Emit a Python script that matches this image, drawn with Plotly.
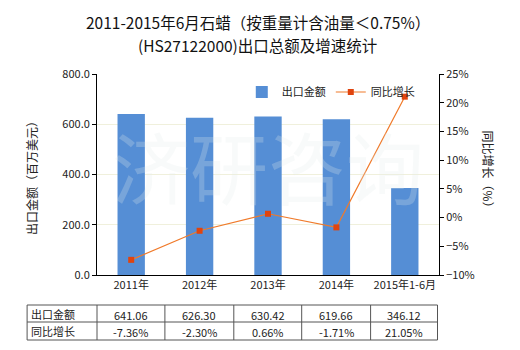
import plotly.graph_objects as go

categories = ["2011年", "2012年", "2013年", "2014年", "2015年1-6月"]
export_values = [641.06, 626.30, 630.42, 619.66, 346.12]
growth_pct = [-7.36, -2.30, 0.66, -1.71, 21.05]
row_labels = ["出口金额", "同比增长"]
title_lines = ["2011-2015年6月石蜡（按重量计含油量＜0.75%）", "(HS27122000)出口总额及增速统计"]

W, H = 520, 350
PL, PR, PT, PB = 97, 439.5, 74, 275  # plot area in pixels
FONT = "Noto Sans CJK SC, Microsoft YaHei, sans-serif"

def px_x(x):
    return (x - PL) / (PR - PL)

def px_y(y):
    return (PB - y) / (PB - PT)

fig = go.Figure()
fig.add_trace(go.Bar(
    x=categories, y=export_values, name="出口金额",
    marker=dict(color="#558ED5", line=dict(width=0)), width=0.4,
))
fig.add_trace(go.Scatter(
    x=categories, y=growth_pct, name="同比增长", yaxis="y2",
    mode="lines+markers",
    line=dict(color="#F07A2A", width=1.2),
    marker=dict(symbol="square", size=6, color="#E0440E"),
))

shapes = []
annotations = []

# title
for i, (t, yp) in enumerate(zip(title_lines, [22, 45])):
    annotations.append(dict(xref="paper", yref="paper", x=px_x(258), y=px_y(yp),
                            text=t, showarrow=False, xanchor="center", yanchor="middle",
                            font=dict(size=15.5, color="#111", family=FONT)))

# table
col_x = [27, 97, 165, 234, 302, 371, 438]
row_y = [305, 322, 340]
border = "#555555"
for xv in col_x:
    shapes.append(dict(type="line", xref="paper", yref="paper",
                       x0=px_x(xv), x1=px_x(xv), y0=px_y(row_y[0]), y1=px_y(row_y[-1]),
                       line=dict(color=border, width=1)))
for yv in row_y:
    shapes.append(dict(type="line", xref="paper", yref="paper",
                       x0=px_x(col_x[0]), x1=px_x(col_x[-1]), y0=px_y(yv), y1=px_y(yv),
                       line=dict(color=border, width=1)))

rows = [[f"{v:.2f}" for v in export_values], [f"{g:.2f}%" for g in growth_pct]]
for r in range(2):
    yc = (row_y[r] + row_y[r + 1]) / 2
    annotations.append(dict(xref="paper", yref="paper", x=px_x(col_x[0] + 2), y=px_y(yc),
                            text=row_labels[r], showarrow=False, xanchor="left", yanchor="middle",
                            font=dict(size=11, color="#222", family=FONT)))
    for c in range(5):
        xc = (col_x[c + 1] + col_x[c + 2]) / 2
        annotations.append(dict(xref="paper", yref="paper", x=px_x(xc), y=px_y(yc + 1),
                                text=rows[r][c], showarrow=False, xanchor="center", yanchor="middle",
                                font=dict(size=11, color="#222", family=FONT)))

# watermark
annotations.append(dict(xref="paper", yref="paper", x=px_x(268), y=px_y(165),
                        text="济研咨询", showarrow=False,
                        font=dict(size=78, color="rgba(228,236,236,0.25)", family=FONT)))

# right axis title (reads top-to-bottom)
annotations.append(dict(xref="paper", yref="paper", x=px_x(490), y=px_y(172),
                        text="同比增长（%）", showarrow=False, textangle=90,
                        xanchor="center", yanchor="middle",
                        font=dict(size=12, color="#222", family=FONT)))

# left axis title
annotations.append(dict(xref="paper", yref="paper", x=px_x(31), y=px_y(175),
                        text="出口金额（百万美元）", showarrow=False, textangle=-90,
                        xanchor="center", yanchor="middle",
                        font=dict(size=12, color="#222", family=FONT)))

fig.update_layout(
    width=W, height=H,
    margin=dict(l=PL, r=W - PR, t=PT, b=H - PB),
    paper_bgcolor="white", plot_bgcolor="white",
    font=dict(family=FONT, size=11, color="#222"),
    bargap=0.6,
    xaxis=dict(showline=True, linecolor="#000", linewidth=1, ticks="",
               tickfont=dict(size=11), showgrid=False),
    yaxis=dict(range=[0, 800], dtick=200, tickformat=".1f", showline=True,
               linecolor="#000", linewidth=1, ticks="outside", ticklen=4, tickcolor="#000",
               showgrid=True, gridcolor="#F0F0DC", gridwidth=1, zeroline=False,
               tickfont=dict(size=11)),
    yaxis2=dict(range=[-10, 25], dtick=5, ticksuffix="%", overlaying="y", side="right",
                showline=True, linecolor="#000", linewidth=1, ticks="outside", ticklen=4,
                tickcolor="#000", showgrid=False, zeroline=False, tickfont=dict(size=11)),
    legend=dict(orientation="h", x=px_x(242), y=px_y(92), xanchor="left", yanchor="middle",
                bgcolor="rgba(0,0,0,0)", font=dict(size=11), itemwidth=30,
                traceorder="normal"),
    shapes=shapes, annotations=annotations,
)

fig.write_html("out.html")
